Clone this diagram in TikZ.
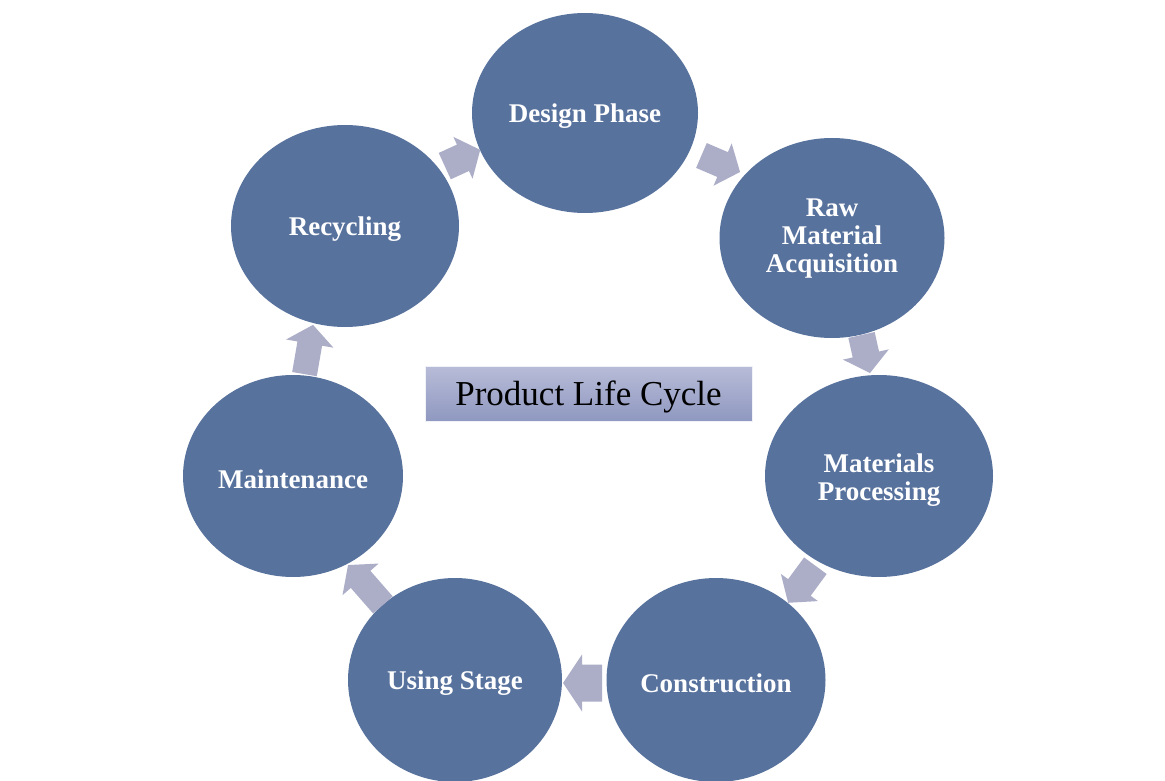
\documentclass[tikz,border=0pt]{standalone}
\usepackage{fontspec}
\setmainfont{Liberation Serif}
\usetikzlibrary{shapes.geometric}
\definecolor{cfill}{RGB}{88,114,158}
\definecolor{afill}{RGB}{172,174,200}
\definecolor{btop}{RGB}{184,188,216}
\definecolor{bbot}{RGB}{143,152,192}
\begin{document}
\begin{tikzpicture}[x=1pt,y=-1pt,
  stage/.style={ellipse, fill=cfill, inner sep=0pt},
  stagetext/.style={text=white, align=center, inner sep=0pt,
    font=\bfseries\fontsize{27}{28}\selectfont},
  titlebox/.style={rectangle, inner sep=0pt, top color=btop, bottom color=bbot,
    draw=white!80!btop, line width=0.6pt, font=\fontsize{35}{40}\selectfont,
    text height=23pt, text depth=0pt},
  pics/barrow/.style n args={3}{code={
    \fill[afill] ({-#1/2},{-#2/2}) -- ({#1/2-19},{-#2/2}) -- ({#1/2-19},{-#3/2})
      -- ({#1/2},0) -- ({#1/2-19},{#3/2}) -- ({#1/2-19},{#2/2}) -- ({-#1/2},{#2/2}) -- cycle;}}]
\useasboundingbox (0,0) rectangle (1165,781);
\clip (0,0) rectangle (1165,781);
\fill[white] (0,0) rectangle (1165,781);

% stages
\node[stage, minimum width=226pt, minimum height=200pt] (des) at (585,113) {};
\node[stage, minimum width=225pt, minimum height=200pt] (raw) at (832,238) {};
\node[stage, minimum width=228pt, minimum height=202pt] (mat) at (879,476) {};
\node[stage, minimum width=219pt, minimum height=204pt] (con) at (716,680) {};
\node[stage, minimum width=214pt, minimum height=204pt] (use) at (455,680) {};
\node[stage, minimum width=220pt, minimum height=202pt] (mnt) at (293,476) {};
\node[stage, minimum width=228pt, minimum height=202pt] (rec) at (345,226) {};

% stage labels
\node[stagetext] (des-t) at ([yshift=-3.5pt]des.center) {Design Phase};
\node[stagetext] (raw-t) at ([yshift=-1pt]raw.center) {Raw\\Material\\Acquisition};
\node[stagetext] (mat-t) at ([yshift=-4pt]mat.center) {Materials\\Processing};
\node[stagetext] (con-t) at ([yshift=-3.5pt]con.center) {Construction};
\node[stagetext] (use-t) at ([yshift=-3.5pt]use.center) {Using Stage};
\node[stagetext] (mnt-t) at ([yshift=-3.5pt]mnt.center) {Maintenance};
\node[stagetext] (rec-t) at ([yshift=-3.5pt]rec.center) {Recycling};

% centre title
\node[titlebox, minimum width=327pt, minimum height=55pt] (plc) at (588.5,393.5) {Product Life Cycle};

% block arrows between stages
\pic[rotate=24.6]  (a1) at (462.5,158)   {barrow={39}{29}{46}};
\pic[rotate=-23.2] (a2) at (720.75,163.75) {barrow={42}{27}{46}};
\pic[rotate=-77.4] (a3) at (865.75,354)  {barrow={39}{27}{47}};
\pic[rotate=-126.3] (a4) at (801.75,584.25) {barrow={46}{28}{46}};
\pic[rotate=180]   (a5) at (582.5,683)   {barrow={39}{37}{57}};
\pic[rotate=131.2] (a6) at (365.5,585)   {barrow={53}{26}{48}};
\pic[rotate=80.2]  (a7) at (308.75,349.5) {barrow={50}{25}{48}};
\end{tikzpicture}
\end{document}
